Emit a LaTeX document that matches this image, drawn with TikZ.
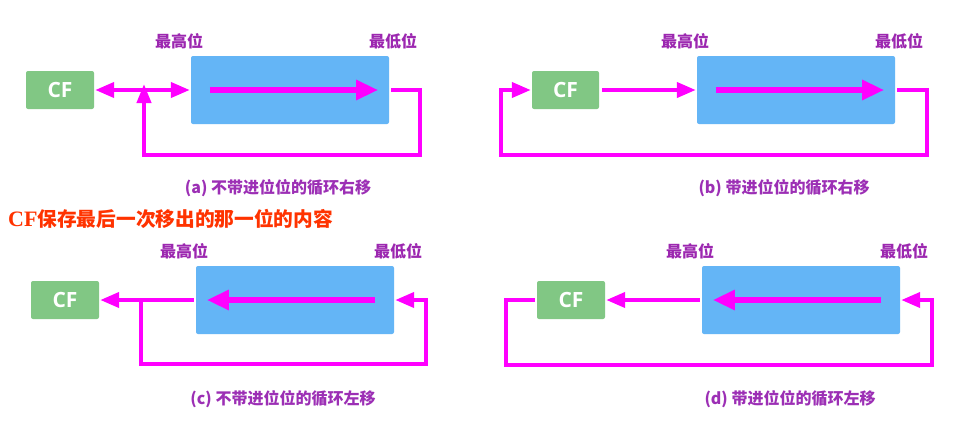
\documentclass[tikz,border=0pt]{standalone}
\usepackage{fontspec}
\usetikzlibrary{arrows.meta}
\newfontfamily\cjk{Noto Sans CJK SC}
\newfontfamily\osans{Open Sans}
\newfontfamily\lserif{Liberation Serif}
\definecolor{mag}{HTML}{FF00FF}
\definecolor{cfgreen}{HTML}{81C784}
\definecolor{regblue}{HTML}{64B5F6}
\definecolor{lblpurple}{HTML}{9C27B0}
\definecolor{cappurple}{HTML}{9C2FB5}
\definecolor{redtxt}{HTML}{FF3300}
\tikzset{
  cfbox/.style={fill=cfgreen, rounded corners=2pt, minimum width=68pt, minimum height=38pt, inner sep=0pt,
    text=white, font=\osans\bfseries\fontsize{21}{22}\selectfont},
  regbox/.style={fill=regblue, rounded corners=2pt, minimum width=198pt, minimum height=68pt, inner sep=0pt},
  outer/.style={draw=mag, line width=4pt, line join=miter, -{Triangle[length=19pt,width=15pt]}},
  plainline/.style={draw=mag, line width=4pt},
  innerarr/.style={draw=mag, line width=6pt, -{Triangle[length=22pt,width=19pt]}},
  lbl/.style={text=lblpurple, font=\cjk\bfseries\fontsize{16}{18}\selectfont, inner sep=0pt},
  captext/.style={text=cappurple, font=\cjk\bfseries\fontsize{16}{18}\selectfont, inner sep=0pt},
}
\begin{document}
\begin{tikzpicture}[x=1pt,y=-1pt]
\useasboundingbox (0,0) rectangle (963,431);
\fill[white] (0,0) rectangle (963,431);

% ---------- (a) ----------
\node[cfbox] (cfa) at (60,90) {CF};
\node[regbox] (rega) at (290,90) {};
\node[lbl] (la1) at (179,41) {最高位};
\node[lbl] (la2) at (393,41) {最低位};
\node[captext] (capa) at (278,188) {(a) 不带进位位的循环右移};
\draw[innerarr] ([xshift=19pt]rega.west) -- ([xshift=-11pt]rega.east);
\draw[plainline, {Triangle[length=19pt,width=15pt]}-{Triangle[length=19pt,width=15pt]}] ([xshift=1pt]cfa.east) -- ([xshift=-1pt]rega.west);
\coordinate (a1) at (420,90);
\coordinate (a2) at (420,155);
\coordinate (a3) at (144,155);
\coordinate (a4) at (144,84);
\draw[outer, -{Triangle[length=19pt,width=14pt]}] ([xshift=2pt]rega.east) -- (a1) -- (a2) -- (a3) -- (a4);

% ---------- (b) ----------
\node[cfbox, minimum width=67pt] (cfb) at (565.5,90) {CF};
\node[regbox] (regb) at (796,90) {};
\node[lbl] (lb1) at (685,41) {最高位};
\node[lbl] (lb2) at (899,41) {最低位};
\node[captext] (capb) at (784,188) {(b) 带进位位的循环右移};
\draw[innerarr] ([xshift=19pt]regb.west) -- ([xshift=-11pt]regb.east);
\draw[outer] ([xshift=3pt]cfb.east) -- ([xshift=-1pt]regb.west);
\coordinate (b1) at (927,90);
\coordinate (b2) at (927,155);
\coordinate (b3) at (501,155);
\coordinate (b4) at (501,90);
\draw[outer] ([xshift=2pt]regb.east) -- (b1) -- (b2) -- (b3) -- (b4) -- ([xshift=-1pt]cfb.west);

% ---------- note ----------
\node[anchor=west, inner sep=0pt, text=redtxt, font=\cjk\bfseries\fontsize{19.7}{22}\selectfont] (note) at (8,219)
  {{\lserif\fontsize{22}{22}\selectfont CF}保存最后一次移出的那一位的内容};

% ---------- (c) ----------
\node[cfbox] (cfc) at (65,300) {CF};
\node[regbox] (regc) at (295,300) {};
\node[lbl] (lc1) at (184,251) {最高位};
\node[lbl] (lc2) at (398,251) {最低位};
\node[captext] (capc) at (283,399) {(c) 不带进位位的循环左移};
\draw[innerarr] ([xshift=-19pt]regc.east) -- ([xshift=11pt]regc.west);
\draw[outer] ([xshift=-2pt]regc.west) -- ([xshift=1pt]cfc.east);
\coordinate (c0) at (141,300);
\coordinate (c1) at (141,364);
\coordinate (c2) at (426,364);
\coordinate (c3) at (426,300);
\draw[outer] (c0) -- (c1) -- (c2) -- (c3) -- ([xshift=1pt]regc.east);

% ---------- (d) ----------
\node[cfbox] (cfd) at (571,300) {CF};
\node[regbox] (regd) at (801,300) {};
\node[lbl] (ld1) at (690,251) {最高位};
\node[lbl] (ld2) at (904,251) {最低位};
\node[captext] (capd) at (790,399) {(d) 带进位位的循环左移};
\draw[innerarr] ([xshift=-19pt]regd.east) -- ([xshift=11pt]regd.west);
\draw[outer] ([xshift=-2pt]regd.west) -- ([xshift=1pt]cfd.east);
\coordinate (d1) at (506,300);
\coordinate (d2) at (506,365);
\coordinate (d3) at (932,365);
\coordinate (d4) at (932,300);
\draw[outer] ([xshift=-2pt]cfd.west) -- (d1) -- (d2) -- (d3) -- (d4) -- ([xshift=1pt]regd.east);
\end{tikzpicture}
\end{document}
